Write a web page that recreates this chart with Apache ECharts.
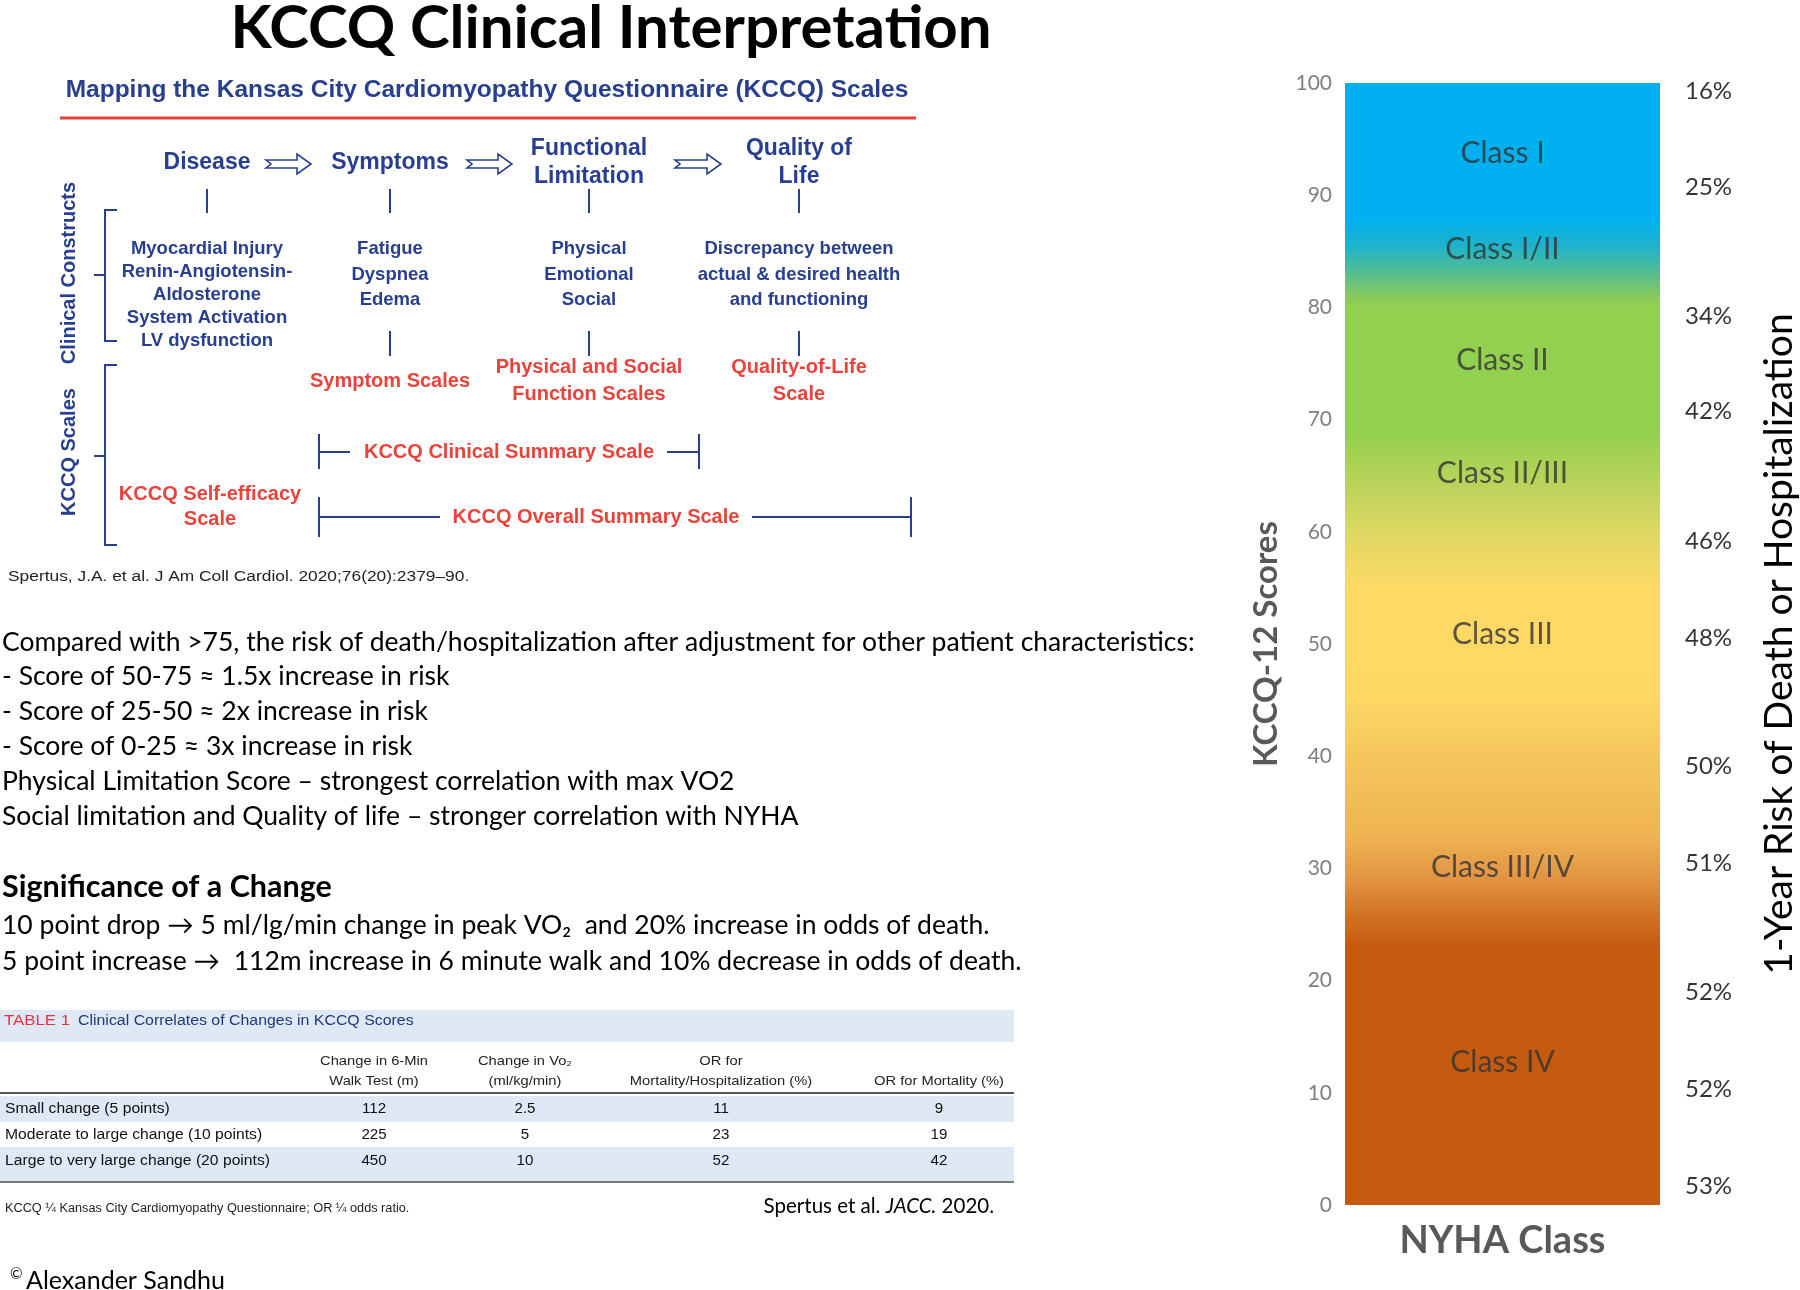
<!DOCTYPE html>
<html><head><meta charset="utf-8">
<script src="https://cdn.jsdelivr.net/npm/echarts@6/dist/echarts.min.js"></script>
<style>html,body{margin:0;padding:0;background:#fff}#c{width:1800px;height:1290px}</style>
</head><body><div id="c"></div>
<script>
// ---------- data ----------
const nyhaCategory = ['NYHA Class'];
const kccqRange = [100];
const scoreMin = 0, scoreMax = 100, scoreInterval = 10;
const nyhaClassLabels = ['Class I', 'Class I/II', 'Class II', 'Class II/III', 'Class III', 'Class III/IV', 'Class IV'];
const nyhaClassScores = [93.7, 85.2, 75.3, 65.2, 50.9, 30.1, 12.7];
const riskLabels = ['16%', '25%', '34%', '42%', '46%', '48%', '50%', '51%', '52%', '52%', '53%'];
const riskScores = [99.3, 90.7, 79.2, 70.7, 59.2, 50.5, 39.1, 30.5, 19.0, 10.3, 1.7];

const titleText = 'KCCQ Clinical Interpretation';
const subtitleText = 'Mapping the Kansas City Cardiomyopathy Questionnaire (KCCQ) Scales';
const flowHeaders = [['Disease'], ['Symptoms'], ['Functional', 'Limitation'], ['Quality of', 'Life']];
const constructs = [
  ['Myocardial Injury', 'Renin-Angiotensin-', 'Aldosterone', 'System Activation', 'LV dysfunction'],
  ['Fatigue', 'Dyspnea', 'Edema'],
  ['Physical', 'Emotional', 'Social'],
  ['Discrepancy between', 'actual & desired health', 'and functioning']
];
const scaleNames = [[], ['Symptom Scales'], ['Physical and Social', 'Function Scales'], ['Quality-of-Life', 'Scale']];
const selfEfficacy = ['KCCQ Self-efficacy', 'Scale'];
const summaryScales = ['KCCQ Clinical Summary Scale', 'KCCQ Overall Summary Scale'];
const sideLabels = ['Clinical Constructs', 'KCCQ Scales'];
const citation1 = 'Spertus, J.A. et al. J Am Coll Cardiol. 2020;76(20):2379\u201390.';
const riskNotes = [
  'Compared with >75, the risk of death/hospitalization after adjustment for other patient characteristics:',
  '- Score of 50-75 \u2248 1.5x increase in risk',
  '- Score of 25-50 \u2248 2x increase in risk',
  '- Score of 0-25 \u2248 3x increase in risk',
  'Physical Limitation Score \u2013 strongest correlation with max VO2',
  'Social limitation and Quality of life \u2013 stronger correlation with NYHA'
];
const changeTitle = 'Significance of a Change';
const changeNotes = [
  '10 point drop \u2192 5 ml/lg/min change in peak VO\u2082  and 20% increase in odds of death.',
  '5 point increase \u2192  112m increase in 6 minute walk and 10% decrease in odds of death.'
];
const tableTag = 'TABLE 1';
const tableTitle = 'Clinical Correlates of Changes in KCCQ Scores';
const tableColumns = [
  ['Change in 6-Min', 'Walk Test (m)'],
  ['Change in Vo\u2082', '(ml/kg/min)'],
  ['OR for', 'Mortality/Hospitalization (%)'],
  ['', 'OR for Mortality (%)']
];
const tableRowLabels = ['Small change (5 points)', 'Moderate to large change (10 points)', 'Large to very large change (20 points)'];
const tableValues = [
  ['112', '2.5', '11', '9'],
  ['225', '5', '23', '19'],
  ['450', '10', '52', '42']
];
const tableFootnote = 'KCCQ \u00BC Kansas City Cardiomyopathy Questionnaire; OR \u00BC odds ratio.';
const sourceNote = ['Spertus et al. ', 'JACC.', ' 2020.'];
const copyright = ['\u00A9', 'Alexander Sandhu'];

// ---------- styles ----------
const NAVY = '#283f8f', RED = '#e9433b';
const ARIAL = "'Liberation Sans', Arial, sans-serif";
const LATO = "Lato, 'Open Sans', sans-serif";

const G = [];
function txt(x, y, text, font, fill, align, extra) {
  G.push(Object.assign({ type: 'text', x: x, y: y, silent: true,
    style: { text: text, font: font, fill: fill || '#000', align: align || 'left', verticalAlign: 'middle' } }, extra || {}));
}
function line(x1, y1, x2, y2, stroke, w) {
  G.push({ type: 'line', silent: true, shape: { x1: x1, y1: y1, x2: x2, y2: y2 }, style: { stroke: stroke, lineWidth: w || 2 } });
}
function poly(points, stroke, w) {
  G.push({ type: 'polyline', silent: true, shape: { points: points }, style: { stroke: stroke, lineWidth: w || 2, fill: null } });
}
function rect(x, y, w, h, fill) {
  G.push({ type: 'rect', silent: true, shape: { x: x, y: y, width: w, height: h }, style: { fill: fill } });
}
function arrow(x, y, len) {
  const h = len - 14;
  G.push({ type: 'polygon', silent: true, shape: { points: [[x, y - 4], [x + h, y - 4], [x + h, y - 10], [x + len, y], [x + h, y + 10], [x + h, y + 4], [x, y + 4], [x + 5, y]] },
    style: { fill: '#fff', stroke: NAVY, lineWidth: 1.6 } });
}

// title
txt(611, 29, titleText, "bold 60px " + LATO, '#000', 'center');
txt(487, 90, subtitleText, "bold 24.5px " + ARIAL, NAVY, 'center');
line(60, 118, 916, 118, RED, 3);

// flow diagram
const colX = [207, 390, 589, 799];
flowHeaders.forEach(function (h, i) {
  if (h.length === 1) txt(colX[i], 163, h[0], "bold 23px " + ARIAL, NAVY, 'center');
  else { txt(colX[i], 149, h[0], "bold 23px " + ARIAL, NAVY, 'center'); txt(colX[i], 177, h[1], "bold 23px " + ARIAL, NAVY, 'center'); }
  line(colX[i], 189, colX[i], 213, NAVY, 2);
});
arrow(266, 164, 45); arrow(467, 164, 45); arrow(675, 164, 46);
constructs.forEach(function (c, i) {
  const step = i === 0 ? 23 : 25.5;
  c.forEach(function (t, j) { txt(colX[i], 249 + j * step, t, "bold 18.5px " + ARIAL, NAVY, 'center'); });
  if (i > 0) line(colX[i], 331, colX[i], 356, NAVY, 2);
});
scaleNames.forEach(function (s, i) {
  if (s.length === 1) txt(colX[i], 381, s[0], "bold 20px " + ARIAL, RED, 'center');
  else if (s.length === 2) { txt(colX[i], 367, s[0], "bold 20px " + ARIAL, RED, 'center'); txt(colX[i], 394, s[1], "bold 20px " + ARIAL, RED, 'center'); }
});
txt(210, 494, selfEfficacy[0], "bold 20px " + ARIAL, RED, 'center');
txt(210, 519, selfEfficacy[1], "bold 20px " + ARIAL, RED, 'center');
txt(509, 452, summaryScales[0], "bold 20px " + ARIAL, RED, 'center');
txt(596, 517, summaryScales[1], "bold 20px " + ARIAL, RED, 'center');
// summary brackets
line(319, 434, 319, 469, NAVY, 2); line(699, 434, 699, 469, NAVY, 2);
line(319, 452, 350, 452, NAVY, 2); line(667, 452, 699, 452, NAVY, 2);
line(319, 497, 319, 537, NAVY, 2); line(911, 497, 911, 537, NAVY, 2);
line(319, 517, 440, 517, NAVY, 2); line(752, 517, 911, 517, NAVY, 2);
// left brackets
poly([[117, 210], [105, 210], [105, 341], [117, 341]], NAVY, 2); line(94, 275, 105, 275, NAVY, 2);
poly([[117, 365], [105, 365], [105, 545], [117, 545]], NAVY, 2); line(94, 456, 105, 456, NAVY, 2);
txt(69, 273, sideLabels[0], "bold 20px " + ARIAL, NAVY, 'center', { rotation: Math.PI / 2 });
txt(69, 452, sideLabels[1], "bold 20px " + ARIAL, NAVY, 'center', { rotation: Math.PI / 2 });
txt(8, 577, citation1, "15.5px " + ARIAL, '#222', 'left', { scaleX: 1.12 });

// notes
riskNotes.forEach(function (t, i) { txt(2, 642 + i * 34.8, t, "26.5px " + LATO, '#000', 'left'); });
txt(2, 887, changeTitle, "bold 30.5px " + LATO, '#000', 'left');
changeNotes.forEach(function (t, i) { txt(2, 925 + i * 36, t, "26.5px " + LATO, '#000', 'left'); });

// table
const BAND = '#dfe8f5';
rect(0, 1010, 1014, 32, BAND);
txt(4, 1021, tableTag, "14px " + ARIAL, '#e0343f', 'left', { scaleX: 1.2 });
txt(78, 1021, tableTitle, "14px " + ARIAL, '#1f3a7a', 'left', { scaleX: 1.135 });
const tColX = [374, 525, 721, 939];
tableColumns.forEach(function (c, i) {
  if (c[0]) txt(tColX[i], 1061, c[0], "13.5px " + ARIAL, '#222', 'center', { scaleX: 1.09 });
  txt(tColX[i], 1081, c[1], "13.5px " + ARIAL, '#222', 'center', { scaleX: 1.09 });
});
rect(0, 1096, 1014, 26, BAND);
rect(0, 1147, 1014, 34, BAND);
line(0, 1093, 1014, 1093, '#555', 2);
line(0, 1182, 1014, 1182, '#777', 2);
tableRowLabels.forEach(function (r, i) {
  const y = 1109 + i * 26;
  txt(5, y, r, "14px " + ARIAL, '#111', 'left', { scaleX: 1.12 });
  tableValues[i].forEach(function (v, j) { txt(tColX[j], y, v, "14px " + ARIAL, '#111', 'center', { scaleX: 1.08 }); });
});
txt(5, 1209, tableFootnote, "12px " + ARIAL, '#222', 'left', { scaleX: 1.06 });
G.push({ type: 'text', x: 994, y: 1206, silent: true, style: {
  text: '{a|' + sourceNote[0] + '}{b|' + sourceNote[1] + '}{a|' + sourceNote[2] + '}', align: 'right', verticalAlign: 'middle',
  rich: { a: { font: "20.5px " + LATO, fill: '#000' }, b: { font: "italic 20.5px " + LATO, fill: '#000' } } } });
txt(10, 1274, copyright[0], "15px " + LATO, '#000', 'left');
txt(26, 1281, copyright[1], "25px " + LATO, '#000', 'left');

// ---------- chart ----------
const chart = echarts.init(document.getElementById('c'), null, { renderer: 'canvas' });
const gradient = new echarts.graphic.LinearGradient(0, 0, 0, 1, [
  { offset: 0, color: '#00b0f0' }, { offset: 0.12, color: '#00b0f0' }, { offset: 0.145, color: '#1eb3cc' },
  { offset: 0.165, color: '#4bbb9a' }, { offset: 0.19, color: '#86c95c' }, { offset: 0.20, color: '#92d050' },
  { offset: 0.31, color: '#92d050' }, { offset: 0.36, color: '#bcd35b' }, { offset: 0.40, color: '#dcd862' },
  { offset: 0.45, color: '#ffd966' }, { offset: 0.545, color: '#fed865' }, { offset: 0.60, color: '#f5c65c' },
  { offset: 0.67, color: '#efb453' }, { offset: 0.71, color: '#e19342' }, { offset: 0.745, color: '#cf6f22' },
  { offset: 0.77, color: '#c55a11' }, { offset: 1, color: '#c55a11' }
]);
chart.setOption({
  animation: false,
  backgroundColor: '#fff',
  grid: [
    { left: 1345, top: 83, width: 315, height: 1122 },
    { left: 1685, top: 83, width: 50, height: 1122 }
  ],
  xAxis: [
    { type: 'category', gridIndex: 0, data: nyhaCategory, axisLine: { show: false }, axisTick: { show: false }, axisLabel: { show: false },
      name: 'NYHA Class', nameLocation: 'middle', nameGap: 17,
      nameTextStyle: { fontFamily: 'Lato', fontWeight: 'bold', fontSize: 38, color: '#595959' } },
    { type: 'value', gridIndex: 1, min: 0, max: 1, show: false }
  ],
  yAxis: [
    { type: 'value', gridIndex: 0, min: scoreMin, max: scoreMax, interval: scoreInterval,
      axisLine: { show: false }, axisTick: { show: false }, splitLine: { show: false },
      axisLabel: { color: '#7f7f7f', fontSize: 21, fontFamily: 'Lato', margin: 13 },
      name: 'KCCQ-12 Scores', nameLocation: 'middle', nameRotate: 90, nameGap: 62,
      nameTextStyle: { fontFamily: 'Lato', fontWeight: 'bold', fontSize: 33, color: '#595959' } },
    { type: 'value', gridIndex: 1, min: scoreMin, max: scoreMax, position: 'right',
      axisLine: { show: false }, axisTick: { show: false }, splitLine: { show: false }, axisLabel: { show: false },
      name: '1-Year Risk of Death or Hospitalization', nameLocation: 'middle', nameRotate: 90, nameGap: 45,
      nameTextStyle: { fontFamily: 'Lato', fontSize: 39, color: '#000' } }
  ],
  series: [
    { type: 'bar', xAxisIndex: 0, yAxisIndex: 0, data: kccqRange, barWidth: '100%', barCategoryGap: 0,
      itemStyle: { color: gradient }, silent: true },
    { type: 'scatter', xAxisIndex: 0, yAxisIndex: 0, symbolSize: 0, silent: true,
      data: nyhaClassLabels.map(function (n, i) { return { name: n, value: [0, nyhaClassScores[i]] }; }),
      label: { show: true, position: 'inside', formatter: '{b}', fontFamily: 'Lato', fontSize: 30, color: '#333' } },
    { type: 'scatter', xAxisIndex: 1, yAxisIndex: 1, symbolSize: 0, silent: true,
      data: riskLabels.map(function (n, i) { return { name: n, value: [0, riskScores[i]] }; }),
      label: { show: true, position: 'right', distance: 0, formatter: '{b}', fontFamily: 'Lato', fontSize: 24, color: '#000' } }
  ],
  graphic: G
});
</script></body></html>
